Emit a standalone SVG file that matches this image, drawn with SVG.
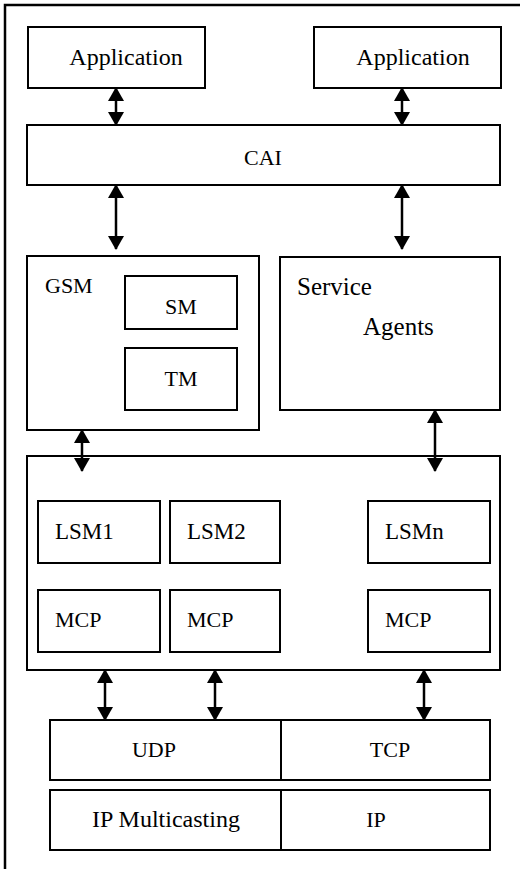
<svg xmlns="http://www.w3.org/2000/svg" width="520" height="869" viewBox="0 0 520 869">
<defs>
<marker id="ah" viewBox="0 0 14 16" refX="13" refY="8" markerWidth="14" markerHeight="16" markerUnits="userSpaceOnUse" orient="auto-start-reverse">
<path d="M0,0 L14,8 L0,16 Z" fill="#000"/>
</marker>
</defs>
<rect width="520" height="869" fill="#fff"/>
<path d="M5,869 V5 H520" fill="none" stroke="#000" stroke-width="2.5"/>

<g fill="#fff" stroke="#000" stroke-width="2">
<g id="app1"><rect x="28" y="27" width="177" height="61"/></g>
<g id="app2"><rect x="314" y="27" width="187" height="61"/></g>
<g id="cai"><rect x="27" y="125" width="473" height="60"/></g>
<g id="gsm"><rect x="27" y="256" width="232" height="174"/></g>
<g id="sm"><rect x="125" y="276" width="112" height="53"/></g>
<g id="tm"><rect x="125" y="348" width="112" height="62"/></g>
<g id="agents"><rect x="280" y="257" width="220" height="153"/></g>
<g id="lsmbox"><rect x="27" y="456" width="473" height="214"/></g>
<g id="lsm1"><rect x="38" y="501" width="122" height="62"/></g>
<g id="lsm2"><rect x="170" y="501" width="110" height="62"/></g>
<g id="lsmn"><rect x="368" y="501" width="122" height="62"/></g>
<g id="mcp1"><rect x="38" y="590" width="122" height="62"/></g>
<g id="mcp2"><rect x="170" y="590" width="110" height="62"/></g>
<g id="mcpn"><rect x="368" y="590" width="122" height="62"/></g>
<g id="udp"><rect x="50" y="720" width="231" height="60"/></g>
<g id="tcp"><rect x="281" y="720" width="209" height="60"/></g>
<g id="ipm"><rect x="50" y="790" width="231" height="60"/></g>
<g id="ip"><rect x="281" y="790" width="209" height="60"/></g>
</g>

<g id="labels" fill="#000">
<text x="126" y="65" text-anchor="middle" font-family="Liberation Serif" font-size="24">Application</text>
<text x="413" y="65" text-anchor="middle" font-family="Liberation Serif" font-size="24">Application</text>
<text x="263" y="165" text-anchor="middle" font-family="Liberation Serif" font-size="22">CAI</text>
<text x="45" y="293" font-family="Liberation Serif" font-size="22">GSM</text>
<text x="181" y="314" text-anchor="middle" font-family="Liberation Serif" font-size="22">SM</text>
<text x="181" y="386" text-anchor="middle" font-family="Liberation Serif" font-size="22">TM</text>
<text x="297" y="295" font-family="Liberation Serif" font-size="25">Service</text>
<text x="363" y="335" font-family="Liberation Serif" font-size="25">Agents</text>
<text x="55" y="539" font-family="Liberation Serif" font-size="23">LSM1</text>
<text x="187" y="539" font-family="Liberation Serif" font-size="23">LSM2</text>
<text x="385" y="539" font-family="Liberation Serif" font-size="23">LSMn</text>
<text x="55" y="627" font-family="Liberation Serif" font-size="22">MCP</text>
<text x="187" y="627" font-family="Liberation Serif" font-size="22">MCP</text>
<text x="385" y="627" font-family="Liberation Serif" font-size="22">MCP</text>
<text x="154" y="757" text-anchor="middle" font-family="Liberation Serif" font-size="22">UDP</text>
<text x="390" y="757" text-anchor="middle" font-family="Liberation Serif" font-size="22">TCP</text>
<text x="166" y="827" text-anchor="middle" font-family="Liberation Serif" font-size="24">IP Multicasting</text>
<text x="376" y="827" text-anchor="middle" font-family="Liberation Serif" font-size="22">IP</text>
</g>

<g id="connectors" stroke="#000" stroke-width="2.5" fill="none" marker-start="url(#ah)" marker-end="url(#ah)">
<line x1="116" y1="88" x2="116" y2="125"/>
<line x1="402" y1="88" x2="402" y2="125"/>
<line x1="116" y1="185" x2="116" y2="249"/>
<line x1="402" y1="185" x2="402" y2="249"/>
<line x1="82" y1="430" x2="82" y2="471"/>
<line x1="435" y1="410" x2="435" y2="471"/>
<line x1="105" y1="670" x2="105" y2="720"/>
<line x1="215" y1="670" x2="215" y2="720"/>
<line x1="424" y1="670" x2="424" y2="720"/>
</g>
</svg>
